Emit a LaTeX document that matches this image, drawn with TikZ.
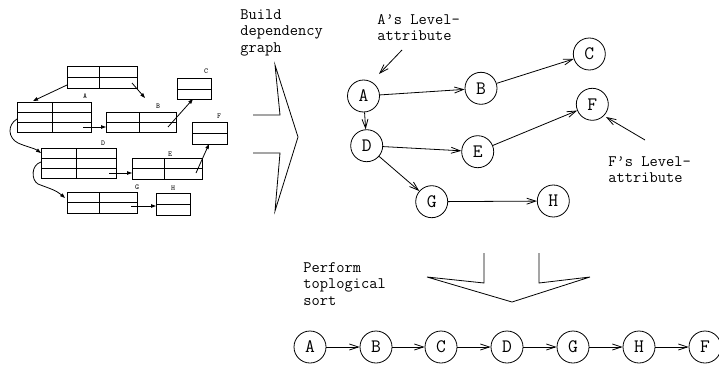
\documentclass[tikz,border=0pt]{standalone}
\usepackage{fontspec}
\usetikzlibrary{arrows.meta}
\begin{document}
\begin{tikzpicture}[x=1pt,y=-1pt,line width=0.8pt,
  vert/.style={circle,draw,minimum size=32pt,inner sep=0pt,
    font=\ttfamily\fontsize{19}{19}\selectfont},
  edge/.style={-{Straight Barb[length=9pt,width=6pt]}},
  rec/.style={line width=0.9pt},
  ptr/.style={line width=0.8pt,-{Triangle[length=5pt,width=3.5pt]}},
  tag/.style={font=\ttfamily\fontsize{7.5}{7.5}\selectfont,inner sep=0pt},
  caption/.style={font=\ttfamily\fontsize{16}{16.5}\selectfont,align=left,
    inner sep=0pt,anchor=north west},
  bigarrow/.style={line width=0.8pt,line join=miter}]
\useasboundingbox (0,0) rectangle (719,364);

% ---------- record structures on the left ----------
% root record
\draw[rec] (67,66) rectangle (137,88) (67,77) -- (137,77) (99,66) -- (99,88);
% A
\draw[rec] (17,102) rectangle (91,132) (17,112) -- (91,112) (17,122) -- (91,122) (52,102) -- (52,132);
\node[tag] (tA) at (85,96) {A};
% B
\draw[rec] (106,112) rectangle (176,132) (106,122) -- (176,122) (139,112) -- (139,132);
\node[tag] (tB) at (158,106) {B};
% C
\draw[rec] (177,78) rectangle (211,99) (177,89) -- (211,89);
\node[tag] (tC) at (206,71) {C};
% D
\draw[rec] (41,148) rectangle (116,178) (41,158) -- (116,158) (41,168) -- (116,168) (76,148) -- (76,178);
\node[tag] (tD) at (103,143) {D};
% E
\draw[rec] (132,158) rectangle (202,179) (132,168.5) -- (202,168.5) (164,158) -- (164,179);
\node[tag] (tE) at (170,154) {E};
% F
\draw[rec] (192,122) rectangle (227,144) (192,133) -- (227,133);
\node[tag] (tF) at (219,116) {F};
% G
\draw[rec] (67,192) rectangle (137,213) (67,202.5) -- (137,202.5) (99,192) -- (99,213);
\node[tag] (tG) at (137,187) {G};
% H
\draw[rec] (156,193) rectangle (190,215) (156,204) -- (190,204);
\node[tag] (tH) at (173,188) {H};

% pointers between records
\coordinate (r1) at (67,85);   \coordinate (a1) at (33,101);
\coordinate (r2) at (132,83);  \coordinate (b1) at (145,98);
\coordinate (a2) at (83,127);  \coordinate (b2) at (106,127);
\coordinate (b3) at (168,127); \coordinate (c1) at (193,99);
\coordinate (d2) at (109,173); \coordinate (e1) at (132,173);
\coordinate (e2) at (196,173); \coordinate (f1) at (209,144);
\coordinate (g2) at (131,206); \coordinate (h1) at (156,206);
\coordinate (a3) at (17,119);  \coordinate (d1) at (41,153);
\coordinate (d3) at (41,162);  \coordinate (g1) at (65,198);
\draw[ptr] (r1) -- (a1);
\draw[ptr] (r2) -- (b1);
\draw[ptr] (a2) -- (b2);
\draw[ptr] (b3) -- (c1);
\draw[ptr] (d2) -- (e1);
\draw[ptr] (e2) -- (f1);
\draw[ptr] (g2) -- (h1);
\draw[ptr] (a3) .. controls (7,125) and (8,138) .. (18,143)
               .. controls (27,147) and (34,148) .. (d1);
\draw[ptr] (d3) .. controls (31,165) and (31,180) .. (38,184)
               .. controls (48,188) and (56,190) .. (g1);

% ---------- "build" arrow ----------
\node[caption] (build) at (240,9) {Build\\dependency\\graph};
\draw[bigarrow] (253,115) -- (280,115) -- (275,65) -- (298,137) -- (275,211)
  -- (280,153) -- (253,153);

% ---------- dependency graph ----------
\node[vert] (A) at (363.5,96) {A};
\node[vert] (B) at (481,88.3) {B};
\node[vert] (C) at (589.3,54) {C};
\node[vert] (D) at (366.7,145.7) {D};
\node[vert] (E) at (477.7,151.7) {E};
\node[vert] (F) at (592.3,104.3) {F};
\node[vert] (G) at (431.7,201.7) {G};
\node[vert] (H) at (553.3,201) {H};
\draw[edge] (A) -- (B);
\draw[edge] (B) -- (C);
\draw[edge] (A) -- (D);
\draw[edge] (D) -- (E);
\draw[edge] (E) -- (F);
\draw[edge] (D) -- (G);
\draw[edge] (G) -- (H);

\node[caption] (alevel) at (377,14) {A’s Level-\\attribute};
\coordinate (al1) at (402,50); \coordinate (al2) at (379,74);
\draw[edge] (al1) -- (al2);
\node[caption] (flevel) at (608,156) {F’s Level-\\attribute};
\coordinate (fl1) at (645,140); \coordinate (fl2) at (606,117);
\draw[edge] (fl1) -- (fl2);

% ---------- "sort" arrow ----------
\node[caption] (sortlbl) at (303,262) {Perform\\toplogical\\sort};
\draw[bigarrow] (484,253) -- (484,283) -- (427,277) -- (512,302) -- (590,277)
  -- (539,283) -- (539,253);

% ---------- sorted sequence ----------
\node[vert] (sA) at (310,347) {A};
\node[vert] (sB) at (376,347) {B};
\node[vert] (sC) at (441,347) {C};
\node[vert] (sD) at (507,347) {D};
\node[vert] (sG) at (573,347) {G};
\node[vert] (sH) at (639,347) {H};
\node[vert] (sF) at (705,347) {F};
\draw[edge] (sA) -- (sB);
\draw[edge] (sB) -- (sC);
\draw[edge] (sC) -- (sD);
\draw[edge] (sD) -- (sG);
\draw[edge] (sG) -- (sH);
\draw[edge] (sH) -- (sF);
\end{tikzpicture}
\end{document}
